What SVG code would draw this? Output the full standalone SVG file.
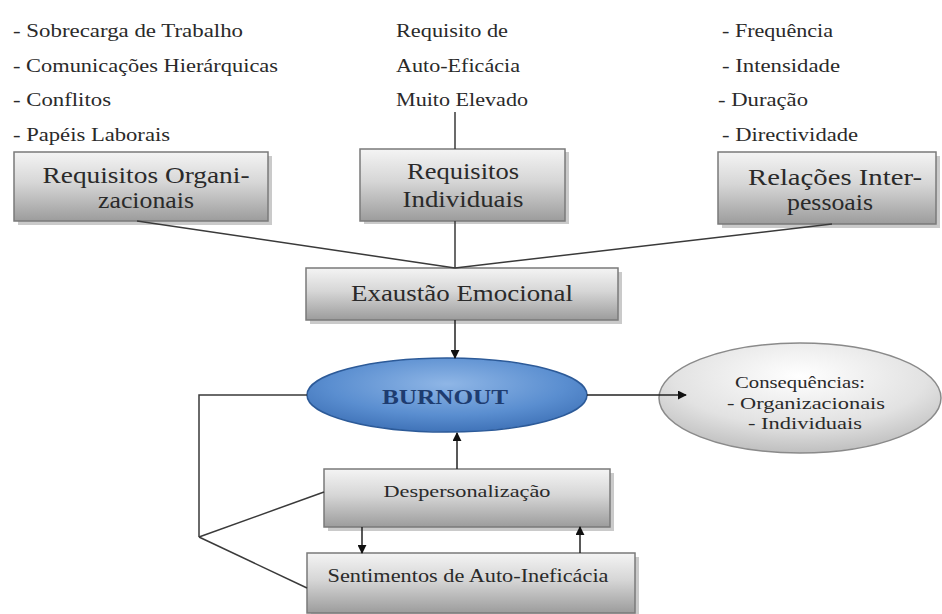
<svg xmlns="http://www.w3.org/2000/svg" width="942" height="614" viewBox="0 0 942 614">
<defs>
<linearGradient id="boxg" x1="0" y1="0" x2="0" y2="1">
<stop offset="0" stop-color="#f4f4f4"/>
<stop offset="0.45" stop-color="#d6d6d6"/>
<stop offset="1" stop-color="#9c9c9c"/>
</linearGradient>
<radialGradient id="blueg" cx="0.5" cy="0.35" r="0.7">
<stop offset="0" stop-color="#8fb6e6"/>
<stop offset="0.6" stop-color="#5a8ed0"/>
<stop offset="1" stop-color="#3a6db3"/>
</radialGradient>
<radialGradient id="grayg" cx="0.5" cy="0.3" r="0.75">
<stop offset="0" stop-color="#ffffff"/>
<stop offset="0.6" stop-color="#e2e2e2"/>
<stop offset="1" stop-color="#b8b8b8"/>
</radialGradient>
<marker id="ah" viewBox="0 0 10 10" refX="9" refY="5" markerWidth="9" markerHeight="9" markerUnits="userSpaceOnUse" orient="auto">
<path d="M0,0 L10,5 L0,10 z" fill="#111"/>
</marker>
</defs>
<style>
text{fill:#2a2a2a;font-family:"Liberation Serif","DejaVu Serif","Times New Roman",serif}
.lst{font-size:19px}
.bt{font-size:23px;text-anchor:middle}
.box{fill:url(#boxg);stroke:#7a7a7a;stroke-width:1.5}
.sh{fill:#8a8a8a;opacity:0.45}
.con{fill:none;stroke:#3a3a3a;stroke-width:1.5}
.arr{fill:none;stroke:#222;stroke-width:1.5;marker-end:url(#ah)}
</style>
<rect width="942" height="614" fill="#ffffff"/>
<g id="list-organizacionais">
<text class="lst" x="13" y="37" textLength="230" lengthAdjust="spacingAndGlyphs">- Sobrecarga de Trabalho</text>
<text class="lst" x="13" y="72" textLength="265" lengthAdjust="spacingAndGlyphs">- Comunicações Hierárquicas</text>
<text class="lst" x="13" y="106" textLength="98" lengthAdjust="spacingAndGlyphs">- Conflitos</text>
<text class="lst" x="13" y="141" textLength="157" lengthAdjust="spacingAndGlyphs">- Papéis Laborais</text>
</g>
<g id="list-individuais">
<text class="lst" x="396" y="37" textLength="112" lengthAdjust="spacingAndGlyphs">Requisito de</text>
<text class="lst" x="396" y="72" textLength="124" lengthAdjust="spacingAndGlyphs">Auto-Eficácia</text>
<text class="lst" x="396" y="106" textLength="132" lengthAdjust="spacingAndGlyphs">Muito Elevado</text>
</g>
<g id="list-relacoes">
<text class="lst" x="722" y="37" textLength="111" lengthAdjust="spacingAndGlyphs">- Frequência</text>
<text class="lst" x="722" y="72" textLength="118" lengthAdjust="spacingAndGlyphs">- Intensidade</text>
<text class="lst" x="718" y="106" textLength="90" lengthAdjust="spacingAndGlyphs">- Duração</text>
<text class="lst" x="722" y="141" textLength="136" lengthAdjust="spacingAndGlyphs">- Directividade</text>
</g>

<g id="node-req-organizacionais">
<rect class="sh" x="18" y="156" width="254" height="69"/>
<rect class="box" x="14" y="152" width="254" height="69"/>
<text class="bt" x="146" y="183" textLength="207" lengthAdjust="spacingAndGlyphs">Requisitos Organi-</text>
<text class="bt" x="146" y="208" textLength="96" lengthAdjust="spacingAndGlyphs">zacionais</text>
</g>
<g id="node-req-individuais">
<rect class="sh" x="364" y="152" width="205" height="72"/>
<rect class="box" x="360" y="149" width="205" height="72"/>
<text class="bt" x="463" y="179" textLength="112" lengthAdjust="spacingAndGlyphs">Requisitos</text>
<text class="bt" x="463" y="207" textLength="121" lengthAdjust="spacingAndGlyphs">Individuais</text>
</g>
<g id="node-relacoes">
<rect class="sh" x="722" y="156" width="218" height="72"/>
<rect class="box" x="718" y="152" width="218" height="72"/>
<text class="bt" x="835" y="185" textLength="174" lengthAdjust="spacingAndGlyphs">Relações Inter-</text>
<text class="bt" x="830" y="210" textLength="86" lengthAdjust="spacingAndGlyphs">pessoais</text>
</g>
<g id="node-exaustao">
<rect class="sh" x="310" y="272" width="312" height="52"/>
<rect class="box" x="306" y="268" width="312" height="52"/>
<text class="bt" x="462" y="301" textLength="222" lengthAdjust="spacingAndGlyphs">Exaustão Emocional</text>
</g>
<g id="node-burnout">
<ellipse cx="447" cy="395" rx="140" ry="37" fill="url(#blueg)" stroke="#2c5a98" stroke-width="1.5"/>
<text x="445" y="404" text-anchor="middle" font-size="20" style="fill:#1e3c70;font-weight:bold" textLength="126" lengthAdjust="spacingAndGlyphs">BURNOUT</text>
</g>
<g id="node-consequencias">
<ellipse cx="800" cy="398" rx="141" ry="55" fill="url(#grayg)" stroke="#8a8a8a" stroke-width="1.5"/>
<text x="800" y="388" text-anchor="middle" font-size="17" textLength="130" lengthAdjust="spacingAndGlyphs">Consequências:</text>
<text x="806" y="409" text-anchor="middle" font-size="17" textLength="158" lengthAdjust="spacingAndGlyphs">- Organizacionais</text>
<text x="805" y="429" text-anchor="middle" font-size="17" textLength="114" lengthAdjust="spacingAndGlyphs">- Individuais</text>
</g>
<g id="node-despersonalizacao">
<rect class="sh" x="328" y="473" width="286" height="58"/>
<rect class="box" x="324" y="469" width="286" height="58"/>
<text x="467" y="497" text-anchor="middle" font-size="17" textLength="167" lengthAdjust="spacingAndGlyphs">Despersonalização</text>
</g>
<g id="node-sentimentos">
<rect class="sh" x="311" y="557" width="328" height="60"/>
<rect class="box" x="307" y="553" width="328" height="60"/>
<text x="468" y="582" text-anchor="middle" font-size="18" textLength="281" lengthAdjust="spacingAndGlyphs">Sentimentos de Auto-Ineficácia</text>
</g>

<g id="connectors">
<line class="con" x1="455" y1="112" x2="455" y2="149"/>
<line class="con" x1="137" y1="221" x2="455" y2="268"/>
<line class="con" x1="455" y1="221" x2="455" y2="268"/>
<line class="con" x1="832" y1="224" x2="455" y2="268"/>
<line class="arr" x1="455" y1="320" x2="455" y2="358"/>
<line class="arr" x1="587" y1="395" x2="686" y2="395"/>
<line class="arr" x1="457" y1="469" x2="457" y2="433"/>
<line class="arr" x1="362" y1="527" x2="362" y2="553"/>
<line class="arr" x1="580" y1="553" x2="580" y2="527"/>
<polyline class="con" points="307,395 199,395 199,537"/>
<line class="con" x1="199" y1="537" x2="324" y2="492"/>
<line class="con" x1="199" y1="537" x2="307" y2="588"/>
</g>
</svg>
